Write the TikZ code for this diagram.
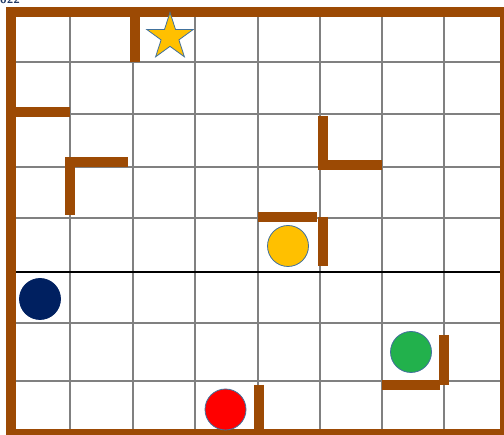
\documentclass[tikz,border=0pt]{standalone}
\usetikzlibrary{shapes.geometric}
\definecolor{wallc}{RGB}{156,74,4}
\definecolor{gridc}{RGB}{128,128,128}
\definecolor{edgec}{RGB}{65,113,156}
\definecolor{goldc}{RGB}{255,192,0}
\definecolor{navyc}{RGB}{0,32,96}
\definecolor{redc}{RGB}{255,0,0}
\definecolor{greenc}{RGB}{34,177,76}
\definecolor{textc}{RGB}{31,56,100}
\begin{document}
\begin{tikzpicture}[x=1pt,y=-1pt,
  wall/.style={draw=wallc, line width=10pt, line cap=butt},
  gridline/.style={draw=gridc, line width=1.8pt},
  token/.style={circle, draw=edgec, line width=0.8pt, minimum size=41pt, inner sep=0pt},
  goal/.style={star, star points=5, star point ratio=2.618, draw=edgec, line width=0.8pt, fill=goldc, minimum size=49pt, inner sep=0pt}]
\useasboundingbox (0,0) rectangle (504,435);
\clip (0,0) rectangle (504,435);
\fill[white] (0,0) rectangle (504,435);
% fragment of title text
\node[anchor=base west, text=textc, font=\sffamily\bfseries\large, inner sep=0pt] (title) at (0,4) {022};
% grid
\foreach \gx in {70,133,195,258,320,382,444} \draw[gridline] (\gx,12) -- (\gx,434);
\foreach \gy in {62,114,167,218,323,381} \draw[gridline] (10,\gy) -- (505,\gy);
\draw[black, line width=1.2pt] (10,272) -- (505,272);
% outer walls
\draw[wall, line join=miter] (10.5,12) rectangle (505,434);
% inner walls
\draw[wall] (135,12) -- (135,62);
\draw[wall] (10,112) -- (70,112);
\draw[wall] (70,157) -- (70,215);
\draw[wall] (75,162) -- (128,162);
\draw[wall] (323,116) -- (323,170);
\draw[wall] (323,165.5) -- (382,165.5);
\draw[wall] (258,217) -- (317,217);
\draw[wall] (323,217) -- (323,266);
\draw[wall] (259,385) -- (259,434);
\draw[wall] (444,335) -- (444,385);
\draw[wall] (382,385) -- (440,385);
% tokens
\node[goal] (star) at (170,37) {};
\node[token, fill=goldc] (yellow) at (288,246) {};
\node[token, fill=navyc, draw=navyc] (navy) at (40,299) {};
\node[token, fill=redc] (red) at (225.5,409.5) {};
\node[token, fill=greenc] (green) at (411,352) {};
\end{tikzpicture}
\end{document}
